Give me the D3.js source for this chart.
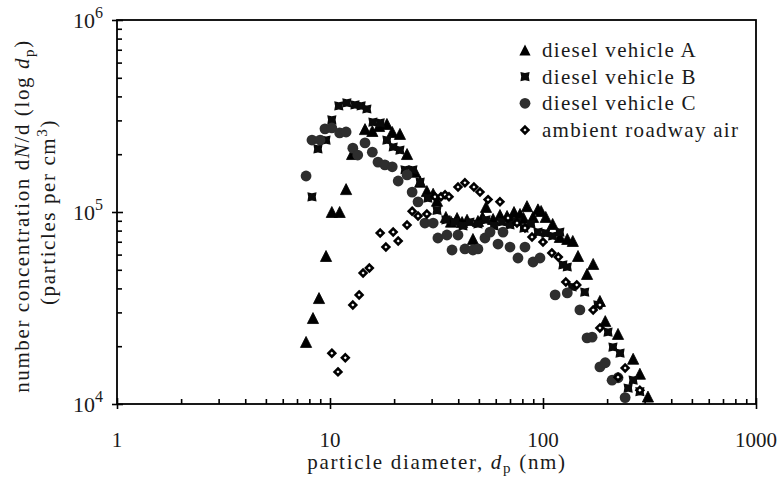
<!DOCTYPE html>
<html><head><meta charset="utf-8">
<script src="https://cdn.jsdelivr.net/npm/d3@7"></script>
<style>
body{margin:0;background:#fff}
svg{font-family:"Liberation Serif","Times New Roman",serif}
</style>
</head><body>
<svg id="chart" width="780" height="479"></svg>
<script>
// ---------- data (diameter nm, concentration per cm3) ----------
const seriesNames = ["diesel vehicle A","diesel vehicle B","diesel vehicle C","ambient roadway air"];
const xTickLabels = ["1","10","100","1000"];
const yTickExponents = ["4","5","6"];

const dieselA = [[7.72,20800],[8.32,27700],[8.88,35200],[9.58,58300],[10.2,98800],[11.1,98800],[11.9,130000],[12.7,198000],[14.6,267000],[15.8,261000],[17.0,277000],[18.5,284000],[19.6,258000],[21.3,252000],[23.0,198000],[25.1,160000],[26.5,142000],[28.5,127000],[30.5,123000],[31.8,113000],[35.0,93100],[37.0,88000],[39.5,91900],[41.7,87600],[44.0,90000],[46.9,71500],[49.5,88700],[52.0,93000],[54.0,105000],[58.3,90900],[62.8,95300],[67.8,94200],[70.5,90000],[73.1,98800],[78.0,96500],[81.0,92000],[84.1,106000],[89.8,93100],[94.7,102000],[98.0,100000],[103,93100],[111,85600],[120,73200],[130,71500],[138,69800],[146,58300],[161,47000],[172,53000],[185,34000],[196,26700],[225,22900],[265,17000],[285,14200],[311,10800]];

const dieselB = [[8.23,120000],[8.78,213000],[9.58,237000],[10.2,302000],[11.0,357000],[12.0,370000],[13.1,361000],[14.0,357000],[14.9,344000],[15.9,294000],[17.2,291000],[18.5,237000],[19.8,218000],[21.3,210000],[22.5,166000],[24.5,166000],[26.5,143000],[28.8,118000],[31.8,102000],[35.0,90900],[38.6,88700],[42.1,84600],[45.4,88700],[49.5,86600],[54.0,90900],[58.9,84600],[64.2,88700],[70.0,85600],[75.5,88700],[81.4,82500],[87.8,86600],[94.7,78600],[103,77700],[111,75000],[120,78600],[124,53000],[130,51700],[137,40700],[157,38300],[181,32800],[202,23700],[213,19800],[230,18400],[251,12100],[265,13300],[285,11600]];

const dieselC = [[7.72,154000],[8.23,237000],[8.98,237000],[9.47,271000],[10.2,274000],[11.1,258000],[11.9,261000],[12.8,215000],[13.5,198000],[14.6,229000],[15.8,205000],[16.8,182000],[18.1,176000],[19.6,172000],[20.9,145000],[23.0,156000],[24.3,127000],[25.9,113000],[27.9,87600],[30.5,87600],[32.1,73200],[35.4,75900],[37.4,63400],[39.9,75900],[43.0,64200],[46.9,63400],[49.5,64200],[53.4,73200],[56.4,78600],[61.5,68100],[64.9,78600],[70.0,65700],[76.3,57600],[82.3,65700],[89.8,54900],[96.8,57600],[114,37000],[130,37900],[149,30900],[161,22100],[170,22300],[185,15600],[196,16400],[211,13300],[225,13700],[243,10800]];

const ambientAir = [[10.2,18400],[10.9,14700],[11.8,17400],[12.8,32800],[13.7,37000],[14.3,48100],[15.3,51100],[17.2,77700],[18.3,65700],[19.8,78600],[20.9,70600],[23.0,85600],[24.3,101000],[25.9,95300],[28.5,97600],[31.1,120000],[33.2,120000],[34.7,123000],[36.2,120000],[39.9,135000],[43.0,142000],[47.4,135000],[50.6,127000],[55.2,116000],[62.8,113000],[68.5,93100],[75.5,87600],[82.3,82500],[88.8,74100],[100,69800],[110,61200],[118,58300],[128,43200],[144,41700],[172,30900],[185,32800],[185,24900],[225,13800],[243,15400],[285,11800]];

// ---------- layout ----------
const svg = d3.select("#chart");
const L = 117, R = 756, T = 20, B = 404;
const x = d3.scaleLog().domain([1, 1000]).range([L, R]);
const y = d3.scaleLog().domain([1e4, 1e6]).range([B, T]);

const majorX = [1, 10, 100, 1000];
const majorY = [1e4, 1e5, 1e6];
const minorX = [], minorY = [];
[1, 10, 100].forEach(d => { for (let k = 2; k <= 9; k++) minorX.push(k * d); });
[1e4, 1e5].forEach(d => { for (let k = 2; k <= 9; k++) minorY.push(k * d); });

function styleAxis(g) {
  g.select(".domain").remove();
  g.selectAll(".tick line").attr("stroke", "#000").attr("stroke-width", 1.6);
  g.selectAll(".tick text").remove();
}
// minor ticks inward
svg.append("g").attr("transform", `translate(0,${B})`)
  .call(d3.axisBottom(x).tickValues(minorX).tickSize(-5).tickFormat(""))
  .call(styleAxis);
svg.append("g").attr("transform", `translate(${L},0)`)
  .call(d3.axisLeft(y).tickValues(minorY).tickSize(-5).tickFormat(""))
  .call(styleAxis);
// major ticks cross the axis
svg.append("g").attr("transform", `translate(0,${B})`)
  .call(d3.axisBottom(x).tickValues(majorX).tickSize(-6).tickFormat(""))
  .call(styleAxis);
svg.append("g").attr("transform", `translate(0,${B})`)
  .call(d3.axisBottom(x).tickValues(majorX).tickSize(5).tickFormat(""))
  .call(styleAxis);
svg.append("g").attr("transform", `translate(${L},0)`)
  .call(d3.axisLeft(y).tickValues(majorY).tickSize(-6).tickFormat(""))
  .call(styleAxis);
svg.append("g").attr("transform", `translate(${L},0)`)
  .call(d3.axisLeft(y).tickValues(majorY).tickSize(5).tickFormat(""))
  .call(styleAxis);

// frame
svg.append("rect").attr("x", L).attr("y", T).attr("width", R - L).attr("height", B - T)
  .attr("fill", "none").attr("stroke", "#000").attr("stroke-width", 1.8);

// tick labels
svg.append("g").selectAll("text").data(majorX).join("text")
  .attr("x", d => x(d)).attr("y", 447)
  .attr("text-anchor", "middle").attr("font-size", 21).attr("fill", "#1a1a1a")
  .text((d, i) => xTickLabels[i]);

const yl = svg.append("g").selectAll("text").data(majorY).join("text")
  .attr("x", 103).attr("y", d => y(d) + 8)
  .attr("text-anchor", "end").attr("font-size", 22).attr("fill", "#1a1a1a");
yl.append("tspan").text("10");
yl.append("tspan").attr("font-size", 16).attr("dy", -10).text((d, i) => yTickExponents[i]);

// axis titles
const xt = svg.append("text").attr("x", 437).attr("y", 469).attr("text-anchor", "middle")
  .attr("font-size", 21).attr("fill", "#1a1a1a").attr("letter-spacing", 1.7);
xt.append("tspan").text("particle diameter, ");
xt.append("tspan").attr("font-style", "italic").text("d");
xt.append("tspan").attr("font-size", 15).attr("dy", 4).text("p");
xt.append("tspan").attr("dy", -4).text(" (nm)");

const yt1 = svg.append("text").attr("transform", "translate(29,216) rotate(-90)")
  .attr("text-anchor", "middle").attr("font-size", 21).attr("fill", "#1a1a1a").attr("letter-spacing", 1.6);
yt1.append("tspan").text("number concentration d");
yt1.append("tspan").attr("font-style", "italic").text("N");
yt1.append("tspan").text("/d (log ");
yt1.append("tspan").attr("font-style", "italic").text("d");
yt1.append("tspan").attr("font-size", 15).attr("dy", 5).text("p");
yt1.append("tspan").attr("dy", -5).text(")");

const yt2 = svg.append("text").attr("transform", "translate(55,212) rotate(-90)")
  .attr("text-anchor", "middle").attr("font-size", 21).attr("fill", "#1a1a1a").attr("letter-spacing", 1.6);
yt2.append("tspan").text("(particles per cm");
yt2.append("tspan").attr("font-size", 15).attr("dy", -8).text("3");
yt2.append("tspan").attr("dy", 8).text(")");

// ---------- markers ----------
const triPath = "M0,-6.5L5.6,4.5L-5.6,4.5Z";
const bowPath = "M-4.6,-4.6L0,-3.6L4.6,-4.6L3.8,0L4.6,4.6L0,3.6L-4.6,4.6L-3.8,0Z";
const diaPath = "M0,-3.4L3.4,0L0,3.4L-3.4,0Z";

function drawSeries(data, kind) {
  const g = svg.append("g");
  const sel = g.selectAll("path,circle").data(data);
  if (kind === "tri") {
    sel.join("path").attr("d", triPath).attr("fill", "#000").attr("stroke", "#000").attr("stroke-width", 0.8).attr("stroke-linejoin", "round")
      .attr("transform", d => `translate(${x(d[0])},${y(d[1])})`);
  } else if (kind === "bow") {
    sel.join("path").attr("d", bowPath).attr("fill", "#0a0a0a")
      .attr("transform", d => `translate(${x(d[0])},${y(d[1])})`);
  } else if (kind === "circ") {
    sel.join("circle").attr("r", 5.4).attr("fill", "#2e2e2e")
      .attr("cx", d => x(d[0])).attr("cy", d => y(d[1]));
  } else {
    sel.join("path").attr("d", diaPath).attr("fill", "#fff").attr("stroke", "#000").attr("stroke-width", 2.6)
      .attr("transform", d => `translate(${x(d[0])},${y(d[1])})`);
  }
}
drawSeries(dieselA, "tri");
drawSeries(dieselB, "bow");
drawSeries(dieselC, "circ");
drawSeries(ambientAir, "dia");

// ---------- legend ----------
const kinds = ["tri", "bow", "circ", "dia"];
const lg = svg.append("g");
const rows = [50, 76.7, 103.3, 130];
kinds.forEach((k, i) => {
  const cy = rows[i], cx = 525;
  if (k === "tri") lg.append("path").attr("d", triPath).attr("fill", "#000").attr("transform", `translate(${cx},${cy + 1})`);
  else if (k === "bow") lg.append("path").attr("d", bowPath).attr("fill", "#0a0a0a").attr("transform", `translate(${cx},${cy})`);
  else if (k === "circ") lg.append("circle").attr("r", 5.4).attr("fill", "#2e2e2e").attr("cx", cx).attr("cy", cy);
  else lg.append("path").attr("d", diaPath).attr("fill", "#fff").attr("stroke", "#000").attr("stroke-width", 2.6).attr("transform", `translate(${cx},${cy})`);
  lg.append("text").attr("x", 542).attr("y", cy + 7).attr("font-size", 21).attr("fill", "#1a1a1a")
    .attr("letter-spacing", 1.3).text(seriesNames[i]);
});
</script>
</body></html>
